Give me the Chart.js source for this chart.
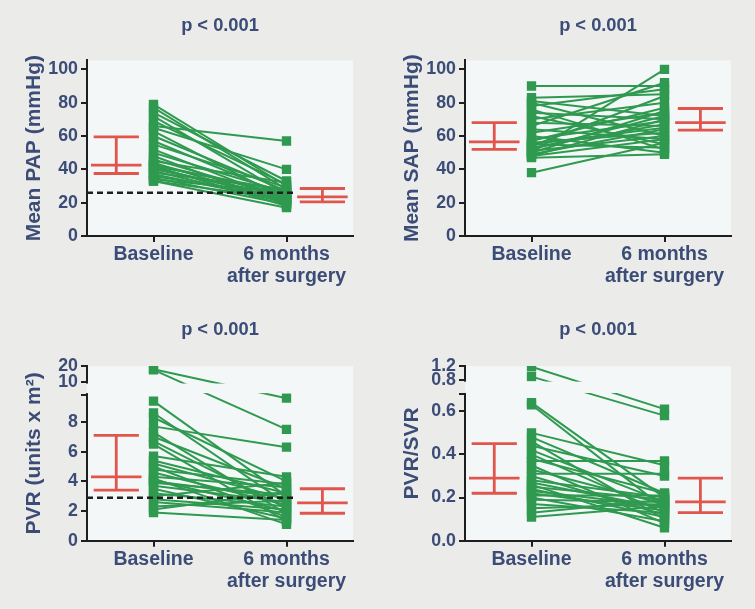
<!DOCTYPE html>
<html>
<head>
<meta charset="utf-8">
<title>Haemodynamics before and after surgery</title>
<script src="https://cdn.jsdelivr.net/npm/chart.js@4.4.1/dist/chart.umd.min.js"></script>
<style>
  body { margin: 0; background: #ebebea; }
  canvas { position: absolute; }
</style>
</head>
<body>
<canvas id="pap" width="377" height="300" style="left:0;top:0"></canvas>
<canvas id="sap" width="377" height="300" style="left:378px;top:0"></canvas>
<canvas id="pvr" width="377" height="309" style="left:0;top:300px"></canvas>
<canvas id="ratio" width="377" height="309" style="left:378px;top:300px"></canvas>
<script>
const categories = ["Baseline", ["6 months", "after surgery"]];
const pLabels = ["p < 0.001", "p < 0.001", "p < 0.001", "p < 0.001"];

// one value per patient, same order in baseline and follow-up
const papBaseline = [79, 77, 74, 72, 69, 66, 65, 63, 60, 57, 55, 52, 50, 48, 46, 45, 44, 43, 42, 42, 41, 40, 39, 38, 37, 36, 35, 34, 33, 33];
const papFollowUp = [30, 28, 33, 25, 31, 57, 40, 22, 27, 24, 29, 21, 26, 19, 23, 32, 20, 25, 18, 27, 22, 24, 20, 28, 21, 23, 19, 26, 22, 17];
const sapBaseline = [90, 38, 50, 83, 81, 80, 78, 76, 74, 72, 70, 68, 66, 64, 62, 60, 58, 57, 56, 55, 54, 53, 52, 51, 50, 49, 48, 48, 47, 55];
const sapFollowUp = [90, 56, 100, 85, 72, 60, 88, 52, 70, 55, 80, 66, 92, 58, 74, 50, 69, 77, 62, 53, 84, 67, 72, 60, 75, 64, 58, 70, 49, 65];
const pvrBaseline = [18.0, 17.6, 9.4, 8.6, 8.3, 7.7, 7.3, 7.0, 6.7, 6.5, 5.7, 5.4, 5.2, 5.0, 4.8, 4.6, 4.3, 4.2, 4.1, 4.0, 3.9, 3.7, 3.5, 3.2, 3.0, 2.8, 2.6, 2.3, 2.1, 1.9];
const pvrFollowUp = [9.6, 7.5, 3.0, 2.5, 4.0, 6.3, 1.8, 3.5, 2.2, 1.3, 4.3, 3.2, 2.8, 1.6, 3.8, 2.4, 3.6, 1.1, 2.0, 2.9, 3.1, 2.6, 1.5, 2.3, 3.9, 2.1, 1.9, 2.7, 3.3, 1.4];
const ratioBaseline = [1.18, 0.90, 0.64, 0.63, 0.50, 0.48, 0.46, 0.44, 0.42, 0.40, 0.38, 0.37, 0.35, 0.33, 0.31, 0.30, 0.28, 0.27, 0.26, 0.25, 0.24, 0.23, 0.22, 0.21, 0.20, 0.19, 0.17, 0.15, 0.13, 0.11];
const ratioFollowUp = [0.61, 0.58, 0.20, 0.15, 0.35, 0.22, 0.10, 0.30, 0.18, 0.13, 0.22, 0.37, 0.08, 0.17, 0.31, 0.12, 0.20, 0.15, 0.06, 0.19, 0.11, 0.16, 0.14, 0.21, 0.09, 0.18, 0.13, 0.17, 0.19, 0.16];

// [Q1, median, Q3] for baseline and follow-up
const papStats = [[37.5, 42.5, 59.5], [20.5, 23.5, 28.5]];
const sapStats = [[52, 56.5, 68], [63.5, 68, 76.5]];
const pvrStats = [[3.4, 4.3, 7.1], [1.85, 2.55, 3.5]];
const ratioStats = [[0.22, 0.29, 0.45], [0.13, 0.18, 0.29]];

const papNormal = 26;
const pvrNormal = 2.9;

const papTicks = [0, 20, 40, 60, 80, 100];
const sapTicks = [0, 20, 40, 60, 80, 100];
const pvrTicks = [0, 2, 4, 6, 8, 10, 20];
const ratioTicks = [0, 0.2, 0.4, 0.6, 0.8, 1.2];

const NAVY = "#3b4c76";
const GREEN = "#2f9a4f";
const RED = "#e0554c";
const AXIS = "#1e1e1e";
const PLOT_BG = "#f4f7f8";
const PAGE_BG = "#ebebea";
const FONT = "'Liberation Sans', Arial, sans-serif";

const STAT_X = [0.72, 2.27];
const CAP = 0.17, MED = 0.19;
const NORMAL_END = 2.05;

Chart.defaults.font.family = FONT;

// linear axis with a break: values above brk.high are squeezed by brk.k
class BrokenScale extends Chart.LinearScale {
  static id = "broken";
  static defaults = Chart.LinearScale.defaults;
  toVirtual(v) {
    const b = this.options.brk;
    if (!b || v <= b.low) return v;
    return b.low + b.gap + (v - b.high) * b.k;
  }
  getPixelForValue(v) {
    return v === null || v === undefined ? NaN : super.getPixelForValue(this.toVirtual(v));
  }
}
Chart.register(BrokenScale);

const plotBackground = {
  id: "plotBackground",
  beforeDraw(chart) {
    const { ctx, chartArea: a } = chart;
    ctx.save();
    ctx.fillStyle = PLOT_BG;
    ctx.fillRect(a.left, a.top, a.right - a.left, a.bottom - a.top);
    ctx.restore();
  }
};

const axisBreak = {
  id: "axisBreak",
  afterDatasetsDraw(chart) {
    const y = chart.scales.y;
    const b = y.options.brk;
    if (!b) return;
    const { ctx, chartArea: a } = chart;
    const top = y.getPixelForValue(b.high) + 1.5;
    const bottom = y.getPixelForValue(b.low) - 1.5;
    ctx.save();
    ctx.fillStyle = PAGE_BG;
    ctx.fillRect(a.left - 3, top, 3, bottom - top);
    ctx.fillStyle = PLOT_BG;
    ctx.fillRect(a.left, top, a.right - a.left, bottom - top);
    ctx.restore();
  }
};

function makeChart(id, o) {
  const datasets = [];
  if (o.normal !== undefined) {
    datasets.push({
      data: [{ x: 0.5, y: o.normal }, { x: NORMAL_END, y: o.normal }],
      borderColor: AXIS, borderWidth: 2.5, borderDash: [6, 4], pointRadius: 0
    });
  }
  o.stats.forEach((s, i) => {
    const cx = STAT_X[i];
    datasets.push({
      data: [
        { x: cx - CAP, y: s[2] }, { x: cx + CAP, y: s[2] }, { x: cx, y: null },
        { x: cx - MED, y: s[1] }, { x: cx + MED, y: s[1] }, { x: cx, y: null },
        { x: cx - CAP, y: s[0] }, { x: cx + CAP, y: s[0] }, { x: cx, y: null },
        { x: cx, y: s[0] }, { x: cx, y: s[2] }
      ],
      borderColor: RED, borderWidth: 2.8, pointRadius: 0
    });
  });
  o.baseline.forEach((b, i) => {
    datasets.push({
      data: [{ x: 1, y: b }, { x: 2, y: o.followUp[i] }],
      borderColor: GREEN, backgroundColor: GREEN, borderWidth: 2,
      pointStyle: "rect", pointRadius: 6.6, pointBorderWidth: 0
    });
  });

  const tickValues = o.brk ? o.ticks.concat([o.brk.low]).sort((a, b) => a - b) : o.ticks;
  const top = o.ticks[o.ticks.length - 1];
  const yMax = o.brk ? o.brk.low + o.brk.gap + (top - o.brk.high) * o.brk.k : o.max;

  return new Chart(document.getElementById(id), {
    type: "line",
    data: { datasets },
    options: {
      responsive: false,
      animation: false,
      events: [],
      layout: { padding: { left: 10, right: 24, top: 0, bottom: 0 } },
      plugins: {
        legend: { display: false },
        tooltip: { enabled: false },
        title: {
          display: true, text: o.p, fullSize: false, color: NAVY,
          font: { size: 18.3, weight: "bold", family: FONT },
          padding: { top: o.titleTop, bottom: o.titleBottom }
        }
      },
      scales: {
        x: {
          type: "linear", min: 0.5, max: 2.5,
          afterBuildTicks: s => { s.ticks = [{ value: 1 }, { value: 2 }]; },
          afterFit: s => { s.height = o.xHeight; },
          ticks: {
            callback: v => categories[Math.round(v) - 1],
            color: NAVY, font: { size: 19.5, weight: "bold", family: FONT, lineHeight: 1.13 },
            padding: 1.5, autoSkip: false, maxRotation: 0
          },
          grid: { drawOnChartArea: false, color: AXIS, lineWidth: 2, tickLength: 6 },
          border: { color: AXIS, width: 2 }
        },
        y: {
          type: o.brk ? "broken" : "linear",
          brk: o.brk,
          min: 0, max: yMax,
          afterBuildTicks: s => { s.ticks = tickValues.map(v => ({ value: v })); },
          afterFit: s => { s.width = 77; },
          title: {
            display: true, text: o.yTitle, color: NAVY,
            font: { size: 21, weight: "bold", family: FONT },
            padding: { top: 12, bottom: 0 }
          },
          ticks: {
            callback: v => (o.brk && v === o.brk.low) ? "" : v.toFixed(o.decimals),
            color: NAVY, font: { size: 17.8, weight: "bold", family: FONT },
            padding: 3, autoSkip: false
          },
          grid: { drawOnChartArea: false, color: AXIS, lineWidth: 2, tickLength: 6 },
          border: { color: AXIS, width: 2 }
        }
      }
    },
    plugins: [plotBackground, axisBreak]
  });
}

const topRow = { titleTop: 15, titleBottom: 23.4, xHeight: 64 };
const bottomRow = { titleTop: 18.5, titleBottom: 25.6, xHeight: 68.3 };

makeChart("pap", Object.assign({
  p: pLabels[0], yTitle: "Mean PAP (mmHg)", baseline: papBaseline, followUp: papFollowUp,
  stats: papStats, normal: papNormal, ticks: papTicks, max: 105.4, decimals: 0
}, topRow));

makeChart("sap", Object.assign({
  p: pLabels[1], yTitle: "Mean SAP (mmHg)", baseline: sapBaseline, followUp: sapFollowUp,
  stats: sapStats, ticks: sapTicks, max: 105.4, decimals: 0
}, topRow));

makeChart("pvr", Object.assign({
  p: pLabels[2], yTitle: "PVR (units x m²)", baseline: pvrBaseline, followUp: pvrFollowUp,
  stats: pvrStats, normal: pvrNormal, ticks: pvrTicks, decimals: 0,
  brk: { low: 9.84, high: 10, gap: 0.847, k: 0.1076 }
}, bottomRow));

makeChart("ratio", Object.assign({
  p: pLabels[3], yTitle: "PVR/SVR", baseline: ratioBaseline, followUp: ratioFollowUp,
  stats: ratioStats, ticks: ratioTicks, decimals: 1,
  brk: { low: 0.678, high: 0.8, gap: 0.0665, k: 0.163 }
}, bottomRow));
</script>
</body>
</html>
